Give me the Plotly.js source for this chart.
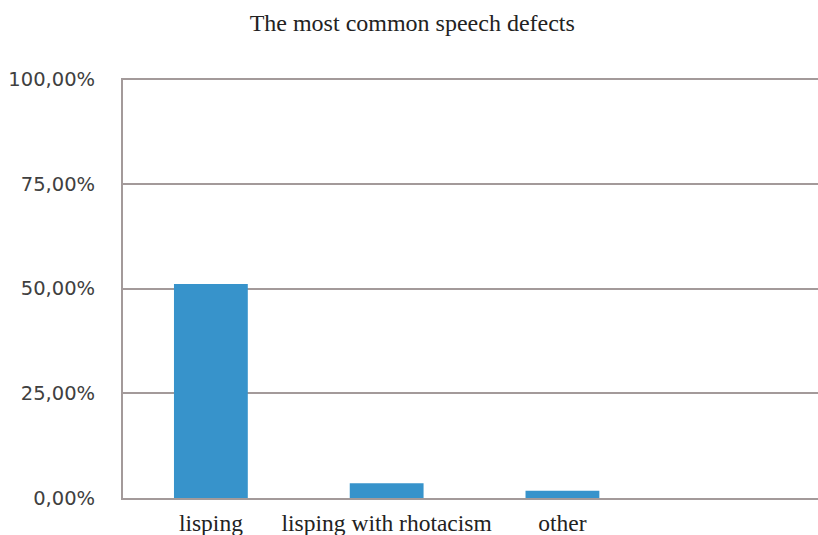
<!DOCTYPE html>
<html>
<head>
<meta charset="utf-8">
<script src="https://cdn.plot.ly/plotly-3.0.1.min.js"></script>
<style>html,body{margin:0;padding:0;background:#fff;}#chart{width:818px;height:535px;}</style>
</head>
<body>
<div id="chart"></div>
<script>
const categories = ["lisping", "lisping with rhotacism", "other"];
const shares = [0.511, 0.035, 0.0175];
const yTickValues = [0, 0.25, 0.5, 0.75, 1];

const gridColor = "#a39a9a";
const trace = {
  type: "bar",
  x: categories,
  y: shares,
  marker: {color: "#3793cb"},
  hoverinfo: "x+y"
};

const layout = {
  width: 818,
  height: 535,
  margin: {l: 123, r: 0, t: 78, b: 37, pad: 0},
  paper_bgcolor: "#ffffff",
  plot_bgcolor: "#ffffff",
  separators: ", ",
  bargap: 0.58,
  showlegend: false,
  title: {
    text: "The most common speech defects",
    font: {family: "Liberation Serif, Times New Roman, serif", size: 24, color: "#222222"},
    xref: "container", yref: "container",
    x: 0.504, xanchor: "center",
    y: 0.957, yanchor: "middle"
  },
  xaxis: {
    type: "category",
    categoryorder: "array",
    categoryarray: categories,
    range: [-0.5, 3.454],
    showgrid: false,
    showline: true,
    linecolor: gridColor,
    linewidth: 2,
    ticks: "outside",
    ticklen: 3,
    tickcolor: "rgba(0,0,0,0)",
    tickfont: {family: "Liberation Serif, Times New Roman, serif", size: 23.5, color: "#222222"},
    fixedrange: true
  },
  yaxis: {
    range: [0, 1.003],
    tickvals: yTickValues,
    tickformat: ".2%",
    showgrid: true,
    gridcolor: gridColor,
    gridwidth: 2,
    zeroline: false,
    showline: true,
    linecolor: gridColor,
    linewidth: 2,
    ticks: "outside",
    ticklen: 22,
    tickcolor: "rgba(0,0,0,0)",
    tickfont: {family: "DejaVu Sans, Verdana, sans-serif", size: 19.5, color: "#404040"},
    fixedrange: true
  }
};

Plotly.newPlot("chart", [trace], layout, {displayModeBar: false, staticPlot: true});
</script>
</body>
</html>
